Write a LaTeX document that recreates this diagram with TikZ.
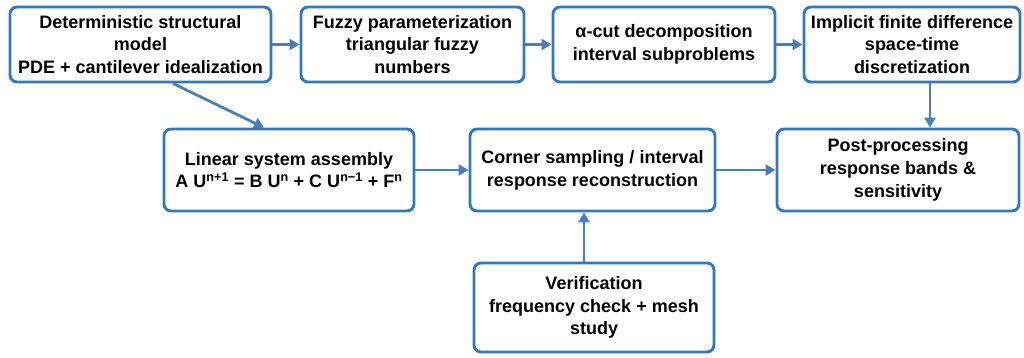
\documentclass[tikz,border=0pt]{standalone}
\usepackage{fontspec}
\setmainfont{Liberation Sans}
\usetikzlibrary{arrows.meta}
\definecolor{boxblue}{RGB}{52,118,192}
\definecolor{arrblue}{RGB}{74,126,187}
\tikzset{
  box/.style={draw=boxblue, line width=2.9pt, rounded corners=7pt, fill=white,
    align=center, font=\fontsize{18}{22.8}\selectfont\bfseries, inner sep=2pt},
  arr/.style={draw=arrblue, line width=2.8pt, -{Triangle[length=10pt,width=11pt]}}
}
\begin{document}
\begin{tikzpicture}[x=1pt,y=1pt]
\useasboundingbox (0,0) rectangle (1024,357);
\node[box, minimum width=261, minimum height=75] (b1) at (140.5,312.5) {Deterministic structural\\model\\PDE + cantilever idealization};
\node[box, minimum width=223, minimum height=75] (b2) at (412.5,312.5) {Fuzzy parameterization\\triangular fuzzy\\numbers};
\node[box, minimum width=222, minimum height=75] (b3) at (664,312.5) {α-cut decomposition\\interval subproblems};
\node[box, minimum width=216, minimum height=75] (b4) at (912,312.5) {Implicit finite difference\\space-time\\discretization};
\node[box, minimum width=250, minimum height=82] (lin) at (289,187) {Linear system assembly\\A U\textsuperscript{n+1} = B U\textsuperscript{n} + C U\textsuperscript{n−1} + F\textsuperscript{n}};
\node[box, minimum width=245, minimum height=82] (cor) at (592.5,187) {Corner sampling / interval\\response reconstruction};
\node[box, minimum width=242, minimum height=82] (post) at (898,187) {Post-processing\\response bands \&\\sensitivity};
\node[box, minimum width=240, minimum height=89] (ver) at (594,49.5) {Verification\\frequency check + mesh\\study};
\draw[arr] (b1) -- (b2);
\draw[arr] (b2) -- (b3);
\draw[arr] (b3) -- (b4);
\draw[arr] (lin) -- (cor);
\draw[arr] (cor) -- (post);
\draw[arr] ([xshift=32.5pt]b1.south) -- ([xshift=-25pt]lin.north);
\draw[arr] ([xshift=18pt]b4.south) -- ([xshift=32pt]post.north);
\draw[arr] ([xshift=-10pt]ver.north) -- ([xshift=-10pt]ver.north |- cor.south);
\end{tikzpicture}
\end{document}
